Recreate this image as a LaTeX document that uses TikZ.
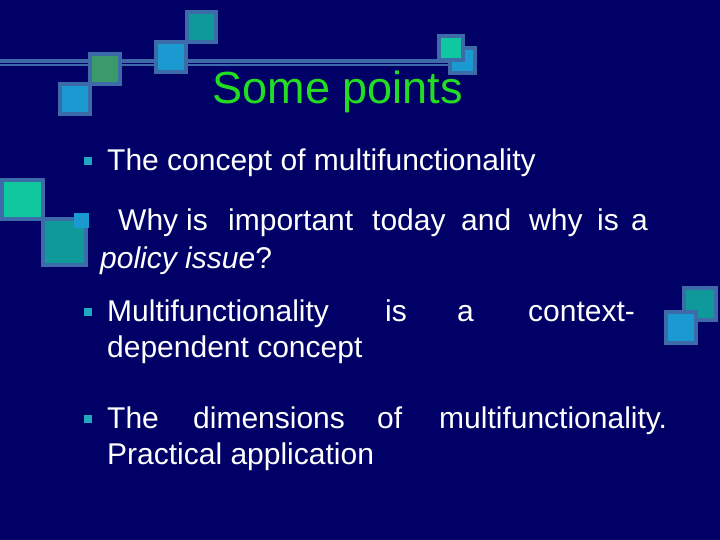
\documentclass[tikz,border=0pt]{standalone}
\usepackage{fontspec}
\setmainfont{Liberation Sans}
\definecolor{bg}{HTML}{000066}
\definecolor{edge}{HTML}{3D6AA8}
\definecolor{cblue}{HTML}{1A9AD0}
\definecolor{cgreen}{HTML}{3A9A6A}
\definecolor{cteal}{HTML}{10999A}
\definecolor{cmint}{HTML}{10C8A0}
\definecolor{ttl}{HTML}{22DD22}
\definecolor{bul}{HTML}{20A8C0}
\tikzset{sq/.style={draw=edge,line width=4pt},
 txt/.style={text=white,font=\fontsize{30}{34}\selectfont,anchor=base west,inner sep=0pt},
 bl/.style={fill=bul,minimum size=8pt,inner sep=0pt}}
\begin{document}
\begin{tikzpicture}[x=1pt,y=-1pt]
\fill[bg] (0,0) rectangle (720,540);
\useasboundingbox (0,0) rectangle (720,540);
% top line
\draw[edge,line width=7pt] (0,63) -- (450,63);
\draw[bg,line width=0.8pt] (0,63) -- (450,63);
\draw[sq,fill=cblue] (60,84) rectangle (90,114);
\draw[sq,fill=cgreen] (90,54) rectangle (120,84);
\draw[sq,fill=cblue] (156,42) rectangle (186,72);
\draw[sq,fill=cteal] (187,12) rectangle (216,42);
\draw[sq,fill=cblue] (450,48) rectangle (475,73);
\draw[sq,fill=cmint] (439,36) rectangle (463,60);
% left middle
\draw[sq,fill=cmint] (2,180) rectangle (43,219);
\draw[sq,fill=cteal] (43,219) rectangle (86,265);
% right
\draw[sq,fill=cteal] (684,288) rectangle (716,320);
\draw[sq,fill=cblue] (666,312) rectangle (696,343);
% title
\node[text=ttl,font=\fontsize{45}{50}\selectfont,inner sep=0pt,anchor=base] (title) at (338,104) {Some points};
% bullets
\node[bl] (b1) at (88,161) {};
\node[fill=cblue,minimum size=15pt,inner sep=0pt] (b2) at (81,221) {};
\node[bl] (b3) at (88,312) {};
\node[bl] (b4) at (88,419) {};
% texts
\node[txt] (t1) at (107,171) {The concept of multifunctionality};
\node[txt] (t2a) at (118,230) {Why};
\node[txt] (t2b) at (186,230) {is};
\node[txt] (t2c) at (228,230) {important};
\node[txt] (t2d) at (372,230) {today};
\node[txt] (t2e) at (461,230) {and};
\node[txt] (t2f) at (529,230) {why};
\node[txt] (t2g) at (597,230) {is};
\node[txt] (t2h) at (631,230) {a};
\node[txt] (t3) at (100,268) {\itshape policy issue\upshape ?};
\node[txt] (t4a) at (107,321) {Multifunctionality};
\node[txt] (t4b) at (385,321) {is};
\node[txt] (t4c) at (457,321) {a};
\node[txt] (t4d) at (528,321) {context-};
\node[txt] (t5) at (107,357) {dependent concept};
\node[txt] (t6a) at (107,428) {The};
\node[txt] (t6b) at (193,428) {dimensions};
\node[txt] (t6c) at (377,428) {of};
\node[txt] (t6d) at (439,428) {multifunctionality.};
\node[txt] (t7) at (107,464) {Practical application};
\end{tikzpicture}
\end{document}
